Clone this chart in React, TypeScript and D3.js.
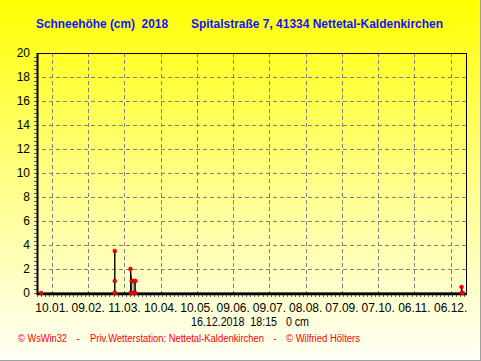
import React from 'react'
import * as d3 from 'd3'

const WIDTH = 481
const HEIGHT = 361
const PLOT = { left: 37, right: 466, top: 53, bottom: 293 }

// daily snow depth readings (cm); repeated dates are readings on the same day
const readingDates = [
  '01.01.2018', '03.03.2018', '03.03.2018', '03.03.2018', '03.03.2018',
  '16.03.2018', '16.03.2018', '17.03.2018', '17.03.2018', '19.03.2018',
  '19.03.2018', '20.03.2018', '20.03.2018', '15.12.2018', '15.12.2018', '16.12.2018'
]
const snowDepth = [0, 0, 3.5, 1, 0, 0, 2, 1, 0, 0, 1, 1, 0, 0, 0.5, 0]

const xTickDates = [
  '10.01.2018', '09.02.2018', '11.03.2018', '10.04.2018', '10.05.2018', '09.06.2018',
  '09.07.2018', '08.08.2018', '07.09.2018', '07.10.2018', '06.11.2018', '06.12.2018'
]
const yTicks = [0, 2, 4, 6, 8, 10, 12, 14, 16, 18, 20]

const parse = d3.utcParse('%d.%m.%Y')
const fmt = d3.utcFormat('%d.%m.')

const App = () => {
  const x = d3
    .scaleUtc()
    .domain([new Date(Date.UTC(2017, 11, 28, 14, 38)), new Date(Date.UTC(2018, 11, 18, 16, 48))])
    .range([PLOT.left, PLOT.right])
  const y = d3.scaleLinear().domain([0, 20]).range([PLOT.bottom, PLOT.top])

  const points = readingDates.map((d, i) => ({ date: parse(d) as Date, value: snowDepth[i] }))
  const line = d3
    .line<{ date: Date; value: number }>()
    .x(d => x(d.date))
    .y(d => y(d.value))

  const tickDates = xTickDates.map(d => parse(d) as Date)
  const [d0, d1] = x.domain()
  const minorX = d3.range(0, (d1.getTime() - d0.getTime()) / 864e5, 10 / 3).map(
    n => new Date(d0.getTime() + n * 864e5)
  )
  const minorY = d3.range(0, 20, 1 / 3)

  const font = 'Arial, "Liberation Sans", sans-serif'

  return (
    <svg
      width={WIDTH}
      height={HEIGHT}
      style={{ position: 'absolute', left: 0, top: 0 }}
      fontFamily={font}
    >
      <defs>
        <linearGradient id="bg" x1="0" y1="0" x2="0" y2="1">
          <stop offset="0" stopColor="#ffff00" />
          <stop offset="0.5" stopColor="#ffff88" />
          <stop offset="1" stopColor="#fffff6" />
        </linearGradient>
      </defs>
      <rect x={0} y={0} width={WIDTH} height={HEIGHT} fill="url(#bg)" />
      <line x1={0} x2={WIDTH} y1={HEIGHT - 0.5} y2={HEIGHT - 0.5} stroke="#a0a0a0" />
      <line x1={WIDTH - 0.5} x2={WIDTH - 0.5} y1={0} y2={HEIGHT} stroke="#a0a0a0" />

      <text x={36} y={28} fill="#1414ff" fontSize={12} fontWeight="bold" textLength={132} lengthAdjust="spacingAndGlyphs" style={{ whiteSpace: 'pre' }}>
        {'Schneehöhe (cm)  2018'}
      </text>
      <text x={191} y={28} fill="#1414ff" fontSize={12} fontWeight="bold" textLength={252} lengthAdjust="spacingAndGlyphs">
        Spitalstraße 7, 41334 Nettetal-Kaldenkirchen
      </text>

      {/* grid */}
      {yTicks.slice(1, -1).map(t => (
        <line key={'gy' + t} x1={PLOT.left - 2} x2={PLOT.right} y1={y(t) + 0.5} y2={y(t) + 0.5}
          stroke="#808080" strokeDasharray="4 3" />
      ))}
      {tickDates.map((d, i) => (
        <line key={'gx' + i} x1={Math.round(x(d)) + 0.5} x2={Math.round(x(d)) + 0.5}
          y1={PLOT.top} y2={PLOT.bottom} stroke="#808080" strokeDasharray="4 3" />
      ))}

      {/* minor ticks */}
      {minorY.map((t, i) => (
        <line key={'my' + i} x1={PLOT.left - 3} x2={PLOT.left} y1={Math.round(y(t)) + 0.5}
          y2={Math.round(y(t)) + 0.5} stroke="#606060" />
      ))}
      {minorX.map((d, i) => (
        <line key={'mx' + i} x1={Math.round(x(d)) + 0.5} x2={Math.round(x(d)) + 0.5}
          y1={PLOT.bottom} y2={PLOT.bottom + 4} stroke="#606060" />
      ))}

      {/* data */}
      <path d={line(points) || ''} fill="none" stroke="#000" strokeWidth={1} />

      {/* frame */}
      <line x1={PLOT.left} x2={PLOT.right + 1} y1={PLOT.top + 0.5} y2={PLOT.top + 0.5} stroke="#000" />
      <line x1={PLOT.right + 0.5} x2={PLOT.right + 0.5} y1={PLOT.top} y2={PLOT.bottom} stroke="#000" />
      <line x1={PLOT.left + 0.5} x2={PLOT.left + 0.5} y1={PLOT.top} y2={PLOT.bottom + 2} stroke="#000" strokeWidth={2} />
      <line x1={PLOT.left} x2={PLOT.right + 1} y1={PLOT.bottom + 1} y2={PLOT.bottom + 1} stroke="#000" strokeWidth={2.5} />

      {points.map((p, i) => (
        <circle key={'p' + i} cx={x(p.date)} cy={y(p.value)} r={2} fill="#ff0000" stroke="#a00000" strokeWidth={0.5} />
      ))}

      {/* axis labels */}
      {yTicks.map(t => (
        <text key={'ty' + t} x={30} y={y(t)} dy="0.35em" textAnchor="end" fontSize={12} fill="#000">
          {t}
        </text>
      ))}
      {tickDates.map((d, i) => (
        <text key={'tx' + i} x={x(d)} y={312} textAnchor="middle" fontSize={12} fill="#000">
          {fmt(d)}
        </text>
      ))}
      <text x={191} y={326} fontSize={12} fill="#000" textLength={118} lengthAdjust="spacingAndGlyphs" style={{ whiteSpace: 'pre' }}>
        {'16.12.2018  18:15   0 cm'}
      </text>

      {/* footer */}
      <g fill="#ff0000" fontSize={10}>
        <text x={18} y={342} textLength={49} lengthAdjust="spacingAndGlyphs">© WsWin32</text>
        <text x={78} y={342} textAnchor="middle">-</text>
        <text x={90} y={342} textLength={174} lengthAdjust="spacingAndGlyphs">Priv.Wetterstation: Nettetal-Kaldenkirchen</text>
        <text x={275} y={342} textAnchor="middle">-</text>
        <text x={286} y={342} textLength={74} lengthAdjust="spacingAndGlyphs">© Wilfried Hölters</text>
      </g>
    </svg>
  )
}

export default App
